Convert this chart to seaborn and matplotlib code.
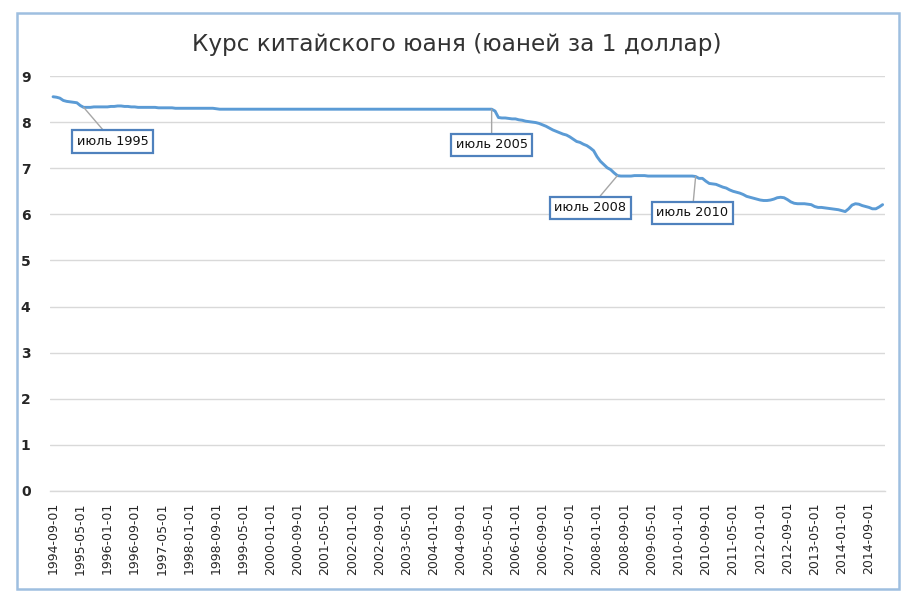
import matplotlib
matplotlib.use("Agg")
import matplotlib.pyplot as plt
import seaborn as sns
import pandas as pd
from matplotlib.patches import Rectangle

# ---- data (monthly, yuan per 1 USD), 1994-09 .. 2015-01 ----
start_month = "1994-09-01"
values_1994 = [8.55, 8.54, 8.52, 8.47]
values_1995 = [8.45, 8.44, 8.43, 8.42, 8.36, 8.32, 8.32, 8.32, 8.33, 8.33, 8.33, 8.33]
values_1996 = [8.33, 8.34, 8.34, 8.35, 8.35, 8.34, 8.34, 8.33, 8.33, 8.32, 8.32, 8.32]
values_1997 = [8.32, 8.32, 8.32, 8.31, 8.31, 8.31, 8.31, 8.31, 8.30, 8.30, 8.30, 8.30]
values_1998 = [8.30, 8.30, 8.30, 8.30, 8.30, 8.30, 8.30, 8.30, 8.29, 8.28, 8.28, 8.28]
values_1999 = [8.28, 8.28, 8.28, 8.28, 8.28, 8.28, 8.28, 8.28, 8.28, 8.28, 8.28, 8.28]
values_2000 = [8.28, 8.28, 8.28, 8.28, 8.28, 8.28, 8.28, 8.28, 8.28, 8.28, 8.28, 8.28]
values_2001 = [8.28, 8.28, 8.28, 8.28, 8.28, 8.28, 8.28, 8.28, 8.28, 8.28, 8.28, 8.28]
values_2002 = [8.28, 8.28, 8.28, 8.28, 8.28, 8.28, 8.28, 8.28, 8.28, 8.28, 8.28, 8.28]
values_2003 = [8.28, 8.28, 8.28, 8.28, 8.28, 8.28, 8.28, 8.28, 8.28, 8.28, 8.28, 8.28]
values_2004 = [8.28, 8.28, 8.28, 8.28, 8.28, 8.28, 8.28, 8.28, 8.28, 8.28, 8.28, 8.28]
values_2005 = [8.28, 8.28, 8.28, 8.28, 8.28, 8.28, 8.24, 8.10, 8.09, 8.09, 8.08, 8.07]
values_2006 = [8.07, 8.05, 8.04, 8.02, 8.01, 8.00, 7.99, 7.97, 7.94, 7.91, 7.87, 7.83]
values_2007 = [7.80, 7.77, 7.74, 7.72, 7.68, 7.63, 7.58, 7.56, 7.52, 7.49, 7.44, 7.38]
values_2008 = [7.25, 7.15, 7.08, 7.01, 6.97, 6.90, 6.84, 6.83, 6.83, 6.83, 6.83, 6.84]
values_2009 = [6.84, 6.84, 6.84, 6.83, 6.83, 6.83, 6.83, 6.83, 6.83, 6.83, 6.83, 6.83]
values_2010 = [6.83, 6.83, 6.83, 6.83, 6.83, 6.82, 6.78, 6.78, 6.72, 6.67, 6.66, 6.65]
values_2011 = [6.62, 6.59, 6.57, 6.53, 6.50, 6.48, 6.46, 6.43, 6.39, 6.37, 6.35, 6.33]
values_2012 = [6.31, 6.30, 6.30, 6.31, 6.33, 6.36, 6.37, 6.36, 6.32, 6.27, 6.24, 6.23]
values_2013 = [6.23, 6.23, 6.22, 6.21, 6.17, 6.15, 6.15, 6.14, 6.13, 6.12, 6.11, 6.10]
values_2014 = [6.08, 6.06, 6.12, 6.20, 6.23, 6.22, 6.19, 6.17, 6.15, 6.12, 6.12, 6.16]
values_2015 = [6.21]

tick_labels = [
    "1994-09-01", "1995-05-01", "1996-01-01", "1996-09-01", "1997-05-01",
    "1998-01-01", "1998-09-01", "1999-05-01", "2000-01-01", "2000-09-01",
    "2001-05-01", "2002-01-01", "2002-09-01", "2003-05-01", "2004-01-01",
    "2004-09-01", "2005-05-01", "2006-01-01", "2006-09-01", "2007-05-01",
    "2008-01-01", "2008-09-01", "2009-05-01", "2010-01-01", "2010-09-01",
    "2011-05-01", "2012-01-01", "2012-09-01", "2013-05-01", "2014-01-01",
    "2014-09-01",
]
y_ticks = [0, 1, 2, 3, 4, 5, 6, 7, 8, 9]

annotation_labels = ["июль 1995", "июль 2005", "июль 2008", "июль 2010"]
annotation_dates = ["1995-06-01", "2005-06-01", "2008-07-01", "2010-06-01"]

title = "Курс китайского юаня (юаней за 1 доллар)"

values = (values_1994 + values_1995 + values_1996 + values_1997 + values_1998 +
          values_1999 + values_2000 + values_2001 + values_2002 + values_2003 +
          values_2004 + values_2005 + values_2006 + values_2007 + values_2008 +
          values_2009 + values_2010 + values_2011 + values_2012 + values_2013 +
          values_2014 + values_2015)
dates = pd.date_range(start=start_month, periods=len(values), freq="MS")
df = pd.DataFrame({"date": dates, "idx": range(len(values)), "rate": values})

# ---- style ----
sns.set_style("white")
plt.rcParams["font.family"] = ["DejaVu Sans"]

fig = plt.figure(figsize=(9.12, 6.03), dpi=100)
ax = fig.add_axes([50 / 912, 1 - 491 / 603, 835 / 912, 415 / 603])

sns.lineplot(data=df, x="idx", y="rate", ax=ax, color="#5b9bd5", linewidth=2.1)

ax.set_xlim(-0.9, 244.7)
ax.set_ylim(0, 9)
tick_pos = [int(dates.get_loc(pd.Timestamp(t))) for t in tick_labels]
ax.set_xticks(tick_pos)
ax.set_xticklabels(tick_labels, rotation=90, fontsize=9, color="#262626")
ax.set_yticks(y_ticks)
ax.set_yticklabels([str(v) for v in y_ticks], fontsize=10, color="#262626",
                   fontweight="bold")
ax.set_xlabel("")
ax.set_ylabel("")

ax.grid(axis="y", color="#d9d9d9", linewidth=1)
ax.grid(axis="x", visible=False)
ax.set_axisbelow(True)
for s in ["top", "right", "left"]:
    ax.spines[s].set_visible(False)
ax.spines["bottom"].set_color("#d9d9d9")
ax.spines["bottom"].set_linewidth(1)
ax.tick_params(axis="x", length=3, width=1, color="#d9d9d9", pad=5, direction="out")
ax.tick_params(axis="y", length=0, pad=14)
ax.patch.set_alpha(0)

# ---- annotations ----
text_offsets = [(8.6, -0.74), (0.0, -0.77), (-8.0, -0.70), (-1.0, -0.79)]
for label, d, off in zip(annotation_labels, annotation_dates, text_offsets):
    i = int(dates.get_loc(pd.Timestamp(d)))
    v = values[i]
    ax.annotate(
        label, xy=(i, v), xytext=(i + off[0], v + off[1]),
        ha="center", va="center", fontsize=9.3, color="#111111",
        bbox=dict(boxstyle="square,pad=0.36", fc="white", ec="#4f81bd", lw=1.6),
        arrowprops=dict(arrowstyle="-", color="#a6a6a6", lw=1,
                        shrinkA=0, shrinkB=0),
    )

fig.text(457 / 912, 1 - 45 / 603, title, ha="center", va="center",
         fontsize=16.7, color="#333333")

fig.patches.append(Rectangle((17 / 912, 1 - 589 / 603), 882 / 912, 576 / 603,
                             transform=fig.transFigure, fill=False,
                             ec="#9ebfe0", lw=1.8))

fig.savefig("out.png", dpi=100)
